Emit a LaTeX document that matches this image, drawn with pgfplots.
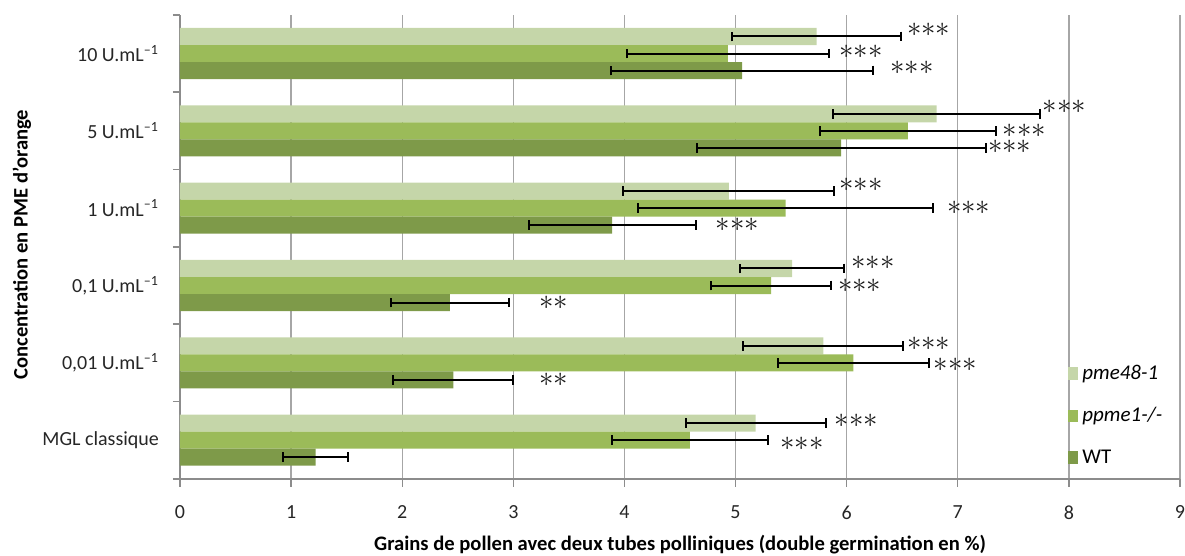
\documentclass[border=0pt]{standalone}
\usepackage{fontspec}
\setmainfont{Carlito}
\usepackage{pgfplots}
\pgfplotsset{compat=1.18}

\definecolor{gLight}{HTML}{C5D6A9}
\definecolor{gMid}{HTML}{9BBB59}
\definecolor{gDark}{HTML}{7E9A49}
\definecolor{axgray}{HTML}{8C8C8C}
\definecolor{gridgray}{HTML}{A6A6A6}

\newcommand{\stars}[1]{\fontsize{14}{14}\selectfont\color{black!90}$#1$}

\begin{document}
\begin{tikzpicture}
\begin{axis}[
    scale only axis,
    width=500pt, height=232pt,
    xbar, bar width=0.22,
    xmin=0, xmax=9,
    ymin=-0.5, ymax=5.5,
    axis lines*=left,
    axis line style={axgray, line width=0.7pt},
    xtick={0,...,9},
    xtick align=outside,
    major tick length=4pt,
    minor tick length=3.5pt,
    xtick style={axgray, line width=0.7pt},
    ytick={0,...,5},
    yticklabels={MGL classique, {0,01 U.mL\textsuperscript{–1}}, {0,1 U.mL\textsuperscript{–1}},
                 {1 U.mL\textsuperscript{–1}}, {5 U.mL\textsuperscript{–1}}, {10 U.mL\textsuperscript{–1}}},
    major y tick style={draw=none},
    minor ytick={-0.5,0.5,...,5.5},
    minor y tick style={axgray, line width=0.7pt},
    ytick align=outside,
    xmajorgrids,
    grid style={gridgray, line width=0.7pt},
    /pgf/number format/assume math mode=true,
    tick label style={font=\fontsize{10}{12}\selectfont, text=black!85},
    x tick label style={yshift=-6pt},
    y tick label style={xshift=-3pt},
    xlabel={Grains de pollen avec deux tubes polliniques (double germination en \%)},
    ylabel={Concentration en PME d'orange},
    label style={font=\fontsize{10.3}{12}\selectfont\bfseries},
    xlabel style={at={(axis description cs:0.5,-0.142)}, anchor=center},
    ylabel style={at={(axis description cs:-0.158,0.505)}, anchor=center},
    legend style={at={(axis description cs:0.888,0.255)}, anchor=north west,
                  draw=none, fill=none, inner sep=0pt,
                  font=\fontsize{10.5}{12}\selectfont, row sep=8.5pt,
                  nodes={inner sep=2pt}},
    legend cell align=left,
    error bars/error bar style={black, line width=1pt},
    error bars/error mark options={black, line width=1pt, mark size=2.4pt, rotate=90},
    sqleg/.style={legend image code/.code={\fill[##1] (0pt,-3.2pt) rectangle (5pt,3.2pt);}},
]
% pme48-1
\addplot[fill=gLight, draw=none, bar shift=0.22, sqleg,
    error bars/.cd, x dir=both, x explicit] coordinates {
    (5.18,0) +- (0.63,0)
    (5.79,1) +- (0.72,0)
    (5.51,2) +- (0.47,0)
    (4.94,3) +- (0.95,0)
    (6.81,4) +- (0.93,0)
    (5.73,5) +- (0.76,0)
};
% ppme1-/-
\addplot[fill=gMid, draw=none, bar shift=0, sqleg,
    error bars/.cd, x dir=both, x explicit] coordinates {
    (4.59,0) +- (0.70,0)
    (6.06,1) +- (0.68,0)
    (5.32,2) +- (0.54,0)
    (5.45,3) +- (1.33,0)
    (6.55,4) +- (0.79,0)
    (4.93,5) +- (0.91,0)
};
% WT
\addplot[fill=gDark, draw=none, bar shift=-0.22, sqleg,
    error bars/.cd, x dir=both, x explicit] coordinates {
    (1.22,0) +- (0.29,0)
    (2.46,1) +- (0.54,0)
    (2.43,2) +- (0.53,0)
    (3.89,3) +- (0.75,0)
    (5.95,4) +- (1.30,0)
    (5.06,5) +- (1.18,0)
};
\legend{\textit{pme48-1}, \textit{ppme1-/-}, WT}

% significance
\begin{scope}[every node/.style={anchor=west, inner sep=0pt}]
\node at (axis cs:6.54,5.31) {\stars{{\ast}{\ast}{\ast}}};
\node at (axis cs:5.93,5.02) {\stars{{\ast}{\ast}{\ast}}};
\node at (axis cs:6.39,4.81) {\stars{{\ast}{\ast}{\ast}}};
\node at (axis cs:7.76,4.31) {\stars{{\ast}{\ast}{\ast}}};
\node at (axis cs:7.40,4.00) {\stars{{\ast}{\ast}{\ast}}};
\node at (axis cs:7.27,3.80) {\stars{{\ast}{\ast}{\ast}}};
\node at (axis cs:5.93,3.30) {\stars{{\ast}{\ast}{\ast}}};
\node at (axis cs:6.90,3.00) {\stars{{\ast}{\ast}{\ast}}};
\node at (axis cs:4.82,2.78) {\stars{{\ast}{\ast}{\ast}}};
\node at (axis cs:6.04,2.30) {\stars{{\ast}{\ast}{\ast}}};
\node at (axis cs:5.92,2.00) {\stars{{\ast}{\ast}{\ast}}};
\node at (axis cs:3.23,1.77) {\stars{{\ast}{\ast}}};
\node at (axis cs:6.54,1.25) {\stars{{\ast}{\ast}{\ast}}};
\node at (axis cs:6.78,0.97) {\stars{{\ast}{\ast}{\ast}}};
\node at (axis cs:3.23,0.78) {\stars{{\ast}{\ast}}};
\node at (axis cs:5.89,0.25) {\stars{{\ast}{\ast}{\ast}}};
\node at (axis cs:5.40,-0.05) {\stars{{\ast}{\ast}{\ast}}};
\end{scope}

\coordinate (bbsw) at (rel axis cs:-0.18,-0.166);
\coordinate (bbne) at (rel axis cs:1.005,1.032);
\end{axis}
\pgfresetboundingbox
\useasboundingbox (bbsw) rectangle (bbne);
\end{tikzpicture}
\end{document}
